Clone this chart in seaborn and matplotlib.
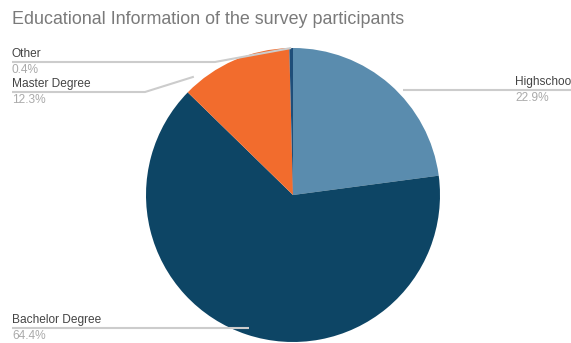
import numpy as np
import matplotlib
matplotlib.use("Agg")
import matplotlib.pyplot as plt
import seaborn as sns

# data (clockwise from 12 o'clock)
categories = ["Highschool", "Bachelor Degree", "Master Degree", "Other"]
shares = [22.9, 64.4, 12.3, 0.4]
colors = ["#5a8cae", "#0d4565", "#f26c2d", "#1f4e79"]

sns.set_theme(style="white")
plt.rcParams["font.family"] = ["Liberation Sans", "DejaVu Sans"]

W, H = 571, 343
fig = plt.figure(figsize=(W / 100, H / 100), dpi=100)
ax = fig.add_axes([0, 0, 1, 1])

cx, cy, r = 293, H - 195, 147
wedges, _ = ax.pie(shares, colors=colors, startangle=90, counterclock=False,
                   center=(cx, cy), radius=r,
                   wedgeprops=dict(linewidth=0))
ax.set_xlim(0, W)
ax.set_ylim(0, H)
ax.axis("off")


def anchor(w, f=0.5, k=1.0):
    a = np.deg2rad(w.theta1 + f * (w.theta2 - w.theta1))
    return cx + r * k * np.cos(a), cy + r * k * np.sin(a)


line_kw = dict(color="#cccccc", lw=1.5, solid_capstyle="butt")
name_kw = dict(fontsize=8.6, color="#444444", va="bottom")
pct_kw = dict(fontsize=8.6, color="#aaaaaa", va="top")

# label layout: text x, leader y (px from top), elbow x, spot in wedge, radius factor
layout = {
    "Highschool": (515, 90, None, 0.5, 1.0),
    "Bachelor Degree": (12, 328, None, 0.5, 0.95),
    "Master Degree": (12, 92, 145, 0.87, 1.05),
    "Other": (12, 62, 215, 0.5, 1.0),
}

for w, name, val in zip(wedges, categories, shares):
    tx, ly, elbow, f, k = layout[name]
    ly = H - ly
    if name == "Highschool":
        x0 = cx + np.sqrt(r ** 2 - (ly - cy) ** 2) + 7
        xs, ys = [x0, W], [ly, ly]
    else:
        px, py = anchor(w, f, k)
        if elbow is not None:
            xs, ys = [tx, elbow, px], [ly, ly, py]
        else:
            xs, ys = [tx, px], [ly, ly]
    ax.plot(xs, ys, **line_kw)
    ax.text(tx, ly + 2, name, **name_kw)
    ax.text(tx, ly - 2, f"{val:.1f}%", **pct_kw)

fig.text(12 / W, 1 - 20 / H, "Educational Information of the survey participants",
         fontsize=12.9, color="#7a7a7a", va="center", ha="left")

fig.savefig("out.png", dpi=100)
